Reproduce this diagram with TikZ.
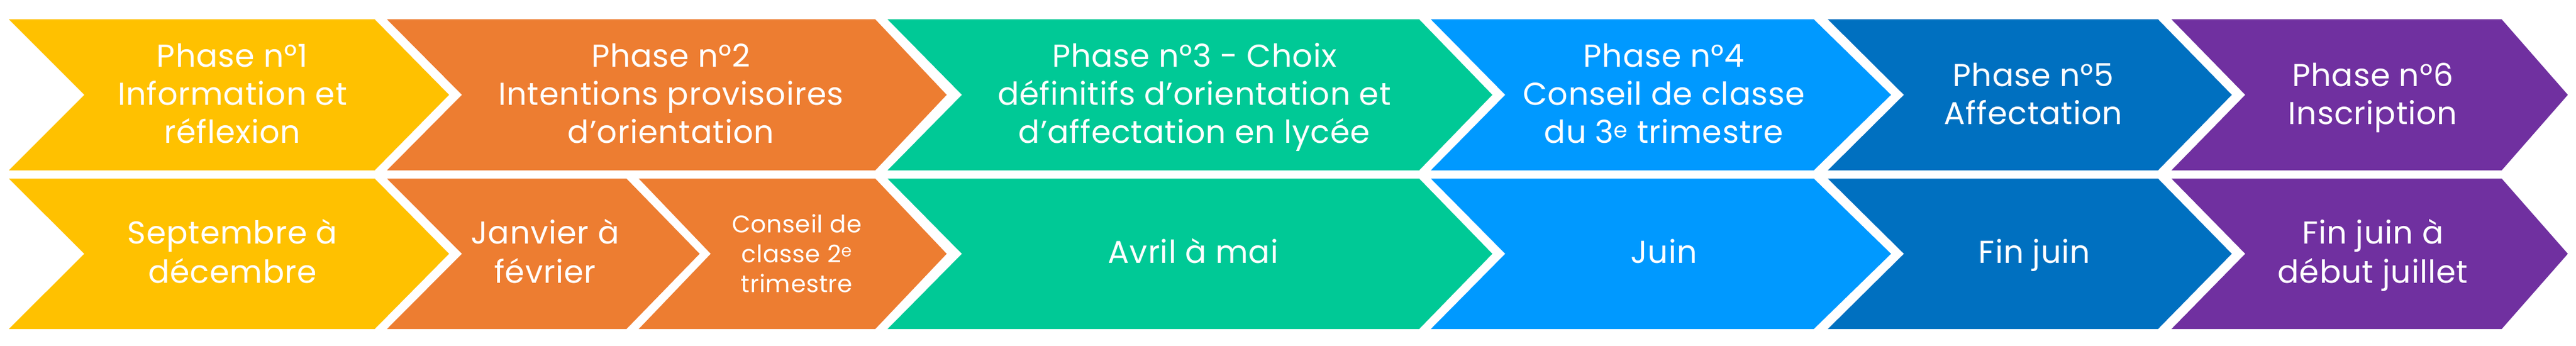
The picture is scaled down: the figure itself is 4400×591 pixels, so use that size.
\documentclass[tikz,border=0pt]{standalone}
\usepackage{fontspec}
\setmainfont{Poppins}[LetterSpace=1.5]
\definecolor{cyel}{RGB}{255,193,0}
\definecolor{cora}{RGB}{237,125,49}
\definecolor{cgre}{RGB}{0,201,150}
\definecolor{cblu}{RGB}{0,153,255}
\definecolor{cdbl}{RGB}{0,112,192}
\definecolor{cpur}{RGB}{112,48,160}
% struts fixing first-line height / last-line depth
\newcommand\Sa{\rule[-15pt]{0pt}{65pt}}
\newcommand\Sb{\rule[-17pt]{0pt}{66pt}}
\newcommand\Sc{\rule[-11pt]{0pt}{51pt}}
% chevron: colour, left, right, top, bottom, notch depth, tip depth
\newcommand\chev[7]{\fill[#1] (#2,#4) -- (#3,#4) -- ({#3+#7},{(#4+#5)/2}) -- (#3,#5) -- (#2,#5) -- ({#2+#6},{(#4+#5)/2}) -- cycle;}
\tikzset{
  lbl/.style={text=white, align=center, inner sep=0pt, font=\fontsize{54}{65}\selectfont},
  lblb/.style={text=white, align=center, inner sep=0pt, font=\fontsize{54}{65}\selectfont},
  lbls/.style={text=white, align=center, inner sep=0pt, font=\fontsize{41.2}{51}\selectfont},
}
\begin{document}
\begin{tikzpicture}[x=1pt,y=-1pt]
\useasboundingbox (0,0) rectangle (4400,591);
\fill[white] (0,0) rectangle (4400,591);
% top row
\chev{cyel}{15}{640}{33}{291}{129}{127}
\chev{cora}{661}{1495}{33}{291}{128}{122}
\chev{cgre}{1516}{2424}{33}{291}{127}{125}
\chev{cblu}{2444}{3098}{33}{291}{127}{132}
\chev{cdbl}{3122}{3686}{33}{291}{130}{126}
\chev{cpur}{3709}{4273}{33}{291}{126}{113}
% bottom row
\chev{cyel}{15}{640}{305}{562}{129}{127}
\chev{cora}{661}{1070}{305}{562}{128}{125}
\chev{cora}{1091}{1495}{305}{562}{123}{122}
\chev{cgre}{1516}{2424}{305}{562}{127}{125}
\chev{cblu}{2444}{3098}{305}{562}{127}{132}
\chev{cdbl}{3122}{3686}{305}{562}{130}{126}
\chev{cpur}{3709}{4273}{305}{562}{126}{113}
% top texts
\node[lbl] (p1) at (397,162) {\Sa Phase n°1\\\Sa Information et\\\Sa réflexion};
\node[lbl] (p2) at (1146,162) {\Sa Phase n°2\\\Sa Intentions provisoires\\\Sa d’orientation};
\node[lbl] (p3) at (2040,162) {\Sa Phase n°3 - Choix\\\Sa définitifs d’orientation et\\\Sa d’affectation en lycée};
\node[lbl] (p4) at (2842,162) {\Sa Phase n°4\\\Sa Conseil de classe\\\Sa du 3\textsuperscript{e} trimestre};
\node[lbl] (p5) at (3473,162) {\Sa Phase n°5\\\Sa Affectation};
\node[lbl] (p6) at (4053,162) {\Sa Phase n°6\\\Sa Inscription};
% bottom texts
\node[lblb] (d1) at (397,433.5) {\Sb Septembre à\\\Sb décembre};
\node[lblb] (d2a) at (931,433.5) {\Sb Janvier à\\\Sb février};
\node[lbls] (d2b) at (1361,433.5) {\Sc Conseil de\\\Sc classe 2\textsuperscript{e}\\\Sc trimestre};
\node[lblb] (d3) at (2038,433.5) {\Sb Avril à mai};
\node[lblb] (d4) at (2842,433.5) {\Sb Juin};
\node[lblb] (d5) at (3475,433.5) {\Sb Fin juin};
\node[lblb] (d6) at (4053,433.5) {\Sb Fin juin à\\\Sb début juillet};
\end{tikzpicture}
\end{document}
